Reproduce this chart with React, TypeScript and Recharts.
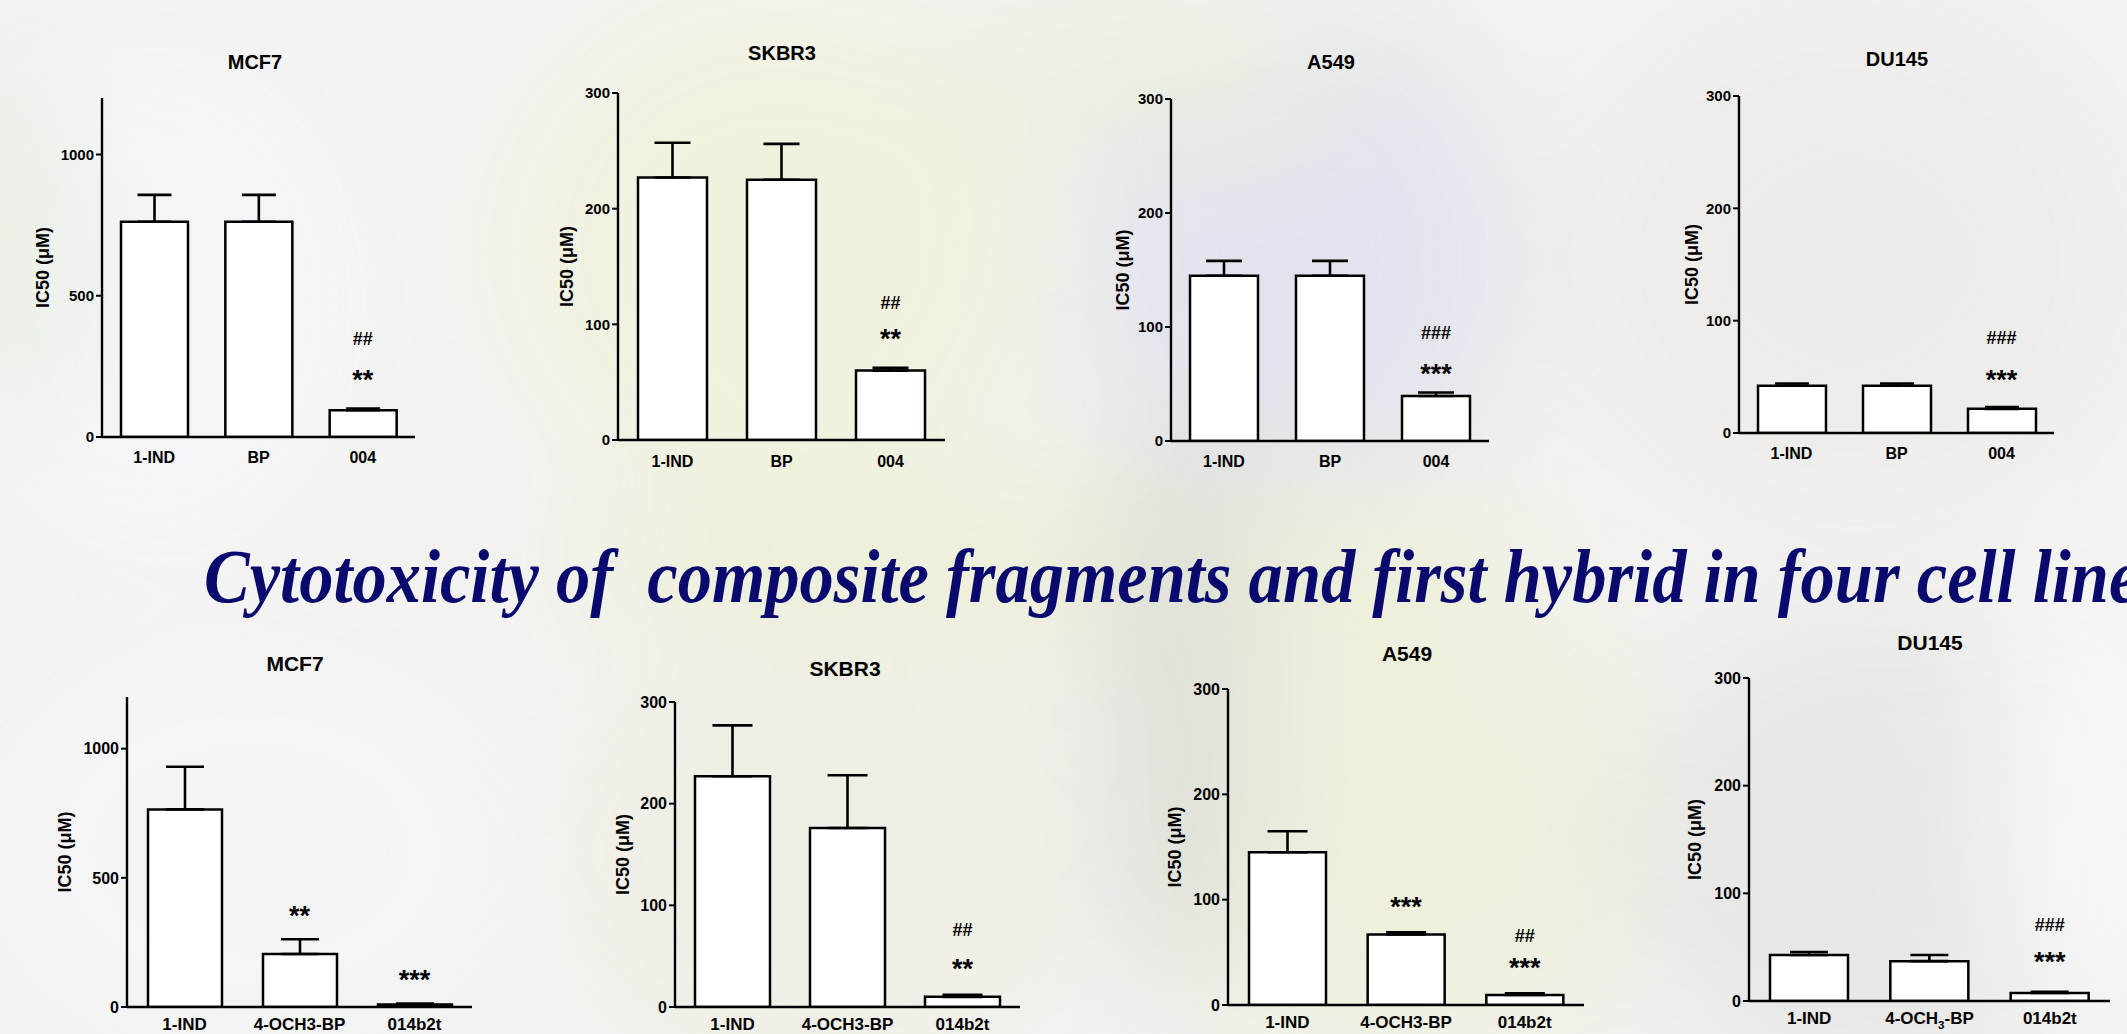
import React from 'react';
import { ComposedChart, Bar, Line, XAxis, YAxis, ErrorBar, LabelList } from 'recharts';

// ---------- data ----------
const topCategories = ['1-IND', 'BP', '004'];
const bottomCategories = ['1-IND', '4-OCH3-BP', '014b2t'];

const mcf7TopMean = [762, 762, 95];
const mcf7TopSem = [95, 95, 6];
const mcf7TopStars = ['', '', '**'];
const mcf7TopHashes = ['', '', '##'];

const skbr3TopMean = [227, 225, 60];
const skbr3TopSem = [30, 31, 2.5];
const skbr3TopStars = ['', '', '**'];
const skbr3TopHashes = ['', '', '##'];

const a549TopMean = [145, 145, 39.5];
const a549TopSem = [13, 13, 3];
const a549TopStars = ['', '', '***'];
const a549TopHashes = ['', '', '###'];

const du145TopMean = [42, 42, 21.5];
const du145TopSem = [2, 2, 1.5];
const du145TopStars = ['', '', '***'];
const du145TopHashes = ['', '', '###'];

const mcf7BotMean = [765, 205, 10];
const mcf7BotSem = [165, 57, 3];
const mcf7BotStars = ['', '**', '***'];
const mcf7BotHashes = ['', '', ''];

const skbr3BotMean = [227, 176, 10];
const skbr3BotSem = [50, 52, 2];
const skbr3BotStars = ['', '', '**'];
const skbr3BotHashes = ['', '', '##'];

const a549BotMean = [145, 67, 9.5];
const a549BotSem = [20, 2, 1.5];
const a549BotStars = ['', '***', '***'];
const a549BotHashes = ['', '', '##'];

const du145BotMean = [42.7, 37, 7.5];
const du145BotSem = [2.8, 5.7, 1];
const du145BotStars = ['', '', '***'];
const du145BotHashes = ['', '', '###'];

const mcf7Ticks = [0, 500, 1000];
const otherTicks = [0, 100, 200, 300];

const headingText = 'Cytotoxicity of  composite fragments and first hybrid in four cell lines';
const yLabelText = 'IC50 (\u03bcM)';

function buildRows(cats: string[], mean: number[], sem: number[], stars: string[], hashes: string[]) {
  return cats.map((name, i) => ({
    name,
    mean: mean[i],
    err: [0, sem[i]],
    top: mean[i] + sem[i],
    stars: stars[i],
    hashes: hashes[i],
  }));
}

// ---------- layout ----------
const YW = 80;
const MT = 12;
const MR = 10;
const XH = 30;
const SANS = "'Liberation Sans', Arial, Helvetica, sans-serif";

type PanelCfg = {
  title: string;
  data: any[];
  max: number;
  ticks: number[];
  axisX: number;
  topY: number;
  baseY: number;
  endX: number;
  barSize: number;
  cap: number;
  titleX: number;
  titleY: number;
  titleFont: number;
  yLabelX: number;
  yFont: number;
  xFont: number;
  xDy: number;
  starGap: number;
  hashGap: number;
  sub?: boolean;
};

const panels: PanelCfg[] = [
  {
    title: 'MCF7', data: buildRows(topCategories, mcf7TopMean, mcf7TopSem, mcf7TopStars, mcf7TopHashes),
    max: 1200, ticks: mcf7Ticks, axisX: 102, topY: 98, baseY: 437, endX: 415, barSize: 67, cap: 17,
    titleX: 255, titleY: 62, titleFont: 20, yLabelX: 43, yFont: 15, xFont: 16, xDy: 18, starGap: 35, hashGap: 70,
  },
  {
    title: 'SKBR3', data: buildRows(topCategories, skbr3TopMean, skbr3TopSem, skbr3TopStars, skbr3TopHashes),
    max: 300, ticks: otherTicks, axisX: 618, topY: 93, baseY: 440, endX: 945, barSize: 69, cap: 18,
    titleX: 782, titleY: 53, titleFont: 20, yLabelX: 567, yFont: 15, xFont: 16, xDy: 19, starGap: 35, hashGap: 65,
  },
  {
    title: 'A549', data: buildRows(topCategories, a549TopMean, a549TopSem, a549TopStars, a549TopHashes),
    max: 300, ticks: otherTicks, axisX: 1171, topY: 99, baseY: 441, endX: 1489, barSize: 68, cap: 18,
    titleX: 1331, titleY: 62, titleFont: 20, yLabelX: 1123, yFont: 15, xFont: 16, xDy: 18, starGap: 25, hashGap: 60,
  },
  {
    title: 'DU145', data: buildRows(topCategories, du145TopMean, du145TopSem, du145TopStars, du145TopHashes),
    max: 300, ticks: otherTicks, axisX: 1739, topY: 96, baseY: 433, endX: 2054, barSize: 68, cap: 17,
    titleX: 1897, titleY: 59, titleFont: 20, yLabelX: 1692, yFont: 15, xFont: 16, xDy: 18, starGap: 34, hashGap: 70,
  },
  {
    title: 'MCF7', data: buildRows(bottomCategories, mcf7BotMean, mcf7BotSem, mcf7BotStars, mcf7BotHashes),
    max: 1200, ticks: mcf7Ticks, axisX: 127, topY: 697, baseY: 1007, endX: 472, barSize: 74, cap: 19,
    titleX: 295, titleY: 663, titleFont: 21, yLabelX: 65, yFont: 16, xFont: 17, xDy: 15, starGap: 30, hashGap: 62,
  },
  {
    title: 'SKBR3', data: buildRows(bottomCategories, skbr3BotMean, skbr3BotSem, skbr3BotStars, skbr3BotHashes),
    max: 300, ticks: otherTicks, axisX: 675, topY: 702, baseY: 1007, endX: 1020, barSize: 75, cap: 20,
    titleX: 845, titleY: 668, titleFont: 21, yLabelX: 623, yFont: 16, xFont: 17, xDy: 15, starGap: 32, hashGap: 65,
  },
  {
    title: 'A549', data: buildRows(bottomCategories, a549BotMean, a549BotSem, a549BotStars, a549BotHashes),
    max: 300, ticks: otherTicks, axisX: 1228, topY: 689, baseY: 1005, endX: 1584, barSize: 77, cap: 20,
    titleX: 1407, titleY: 653, titleFont: 21, yLabelX: 1175, yFont: 16, xFont: 17, xDy: 15, starGap: 32, hashGap: 58,
  },
  {
    title: 'DU145', data: buildRows(bottomCategories, du145BotMean, du145BotSem, du145BotStars, du145BotHashes),
    max: 300, ticks: otherTicks, axisX: 1749, topY: 678, baseY: 1001, endX: 2110, barSize: 78, cap: 19,
    titleX: 1930, titleY: 642, titleFont: 21, yLabelX: 1695, yFont: 16, xFont: 17, xDy: 15, starGap: 36, hashGap: 67,
    sub: true,
  },
];

// ---------- renderers ----------
function XTick(props: any) {
  const { x, y, payload, fs, dyPx, sub } = props;
  const label = String(payload && payload.value != null ? payload.value : '');
  const common = {
    x, y: Number(y) + dyPx, textAnchor: 'middle' as const, fontSize: fs, fontWeight: 700, fill: '#000', fontFamily: SANS,
  };
  if (sub && label.indexOf('OCH3') >= 0) {
    const parts = label.split('OCH3');
    return (
      <text {...common}>
        {parts[0]}OCH
        <tspan fontSize={fs * 0.68} dy={fs * 0.28}>3</tspan>
        <tspan dy={-fs * 0.28}>{parts[1]}</tspan>
      </text>
    );
  }
  return <text {...common}>{label}</text>;
}

function renderMark(lp: any, gap: number, fs: number, centerEm: number) {
  const value = lp.value;
  if (!value) return null;
  const vb = lp.viewBox || {};
  const x = lp.x != null ? Number(lp.x) : Number(vb.x);
  const y = lp.y != null ? Number(lp.y) : Number(vb.y);
  const cy = y - gap;
  return (
    <text x={x} y={cy + fs * centerEm} textAnchor="middle" fontSize={fs} fontWeight={700} fill="#000" fontFamily={SANS}>
      {value}
    </text>
  );
}

function Panel({ p }: { p: PanelCfg }) {
  const W = YW + (p.endX - p.axisX) + MR;
  const H = MT + (p.baseY - p.topY) + XH;
  return (
    <div style={{ position: 'absolute', left: p.axisX - YW, top: p.topY - MT, width: W, height: H, fontFamily: SANS }}>
      <ComposedChart width={W} height={H} data={p.data} margin={{ top: MT, right: MR, bottom: 0, left: 0 }}>
        <XAxis
          dataKey="name"
          height={XH}
          tickLine={false}
          interval={0}
          axisLine={{ stroke: '#000', strokeWidth: 2.4 }}
          tick={(t: any) => <XTick {...t} fs={p.xFont} dyPx={p.xDy} sub={p.sub} />}
        />
        <YAxis
          type="number"
          width={YW}
          domain={[0, p.max]}
          ticks={p.ticks}
          interval={0}
          allowDataOverflow
          tickSize={6}
          tickMargin={2}
          axisLine={{ stroke: '#000', strokeWidth: 2.4 }}
          tickLine={{ stroke: '#000', strokeWidth: 2 }}
          tick={{ fill: '#000', fontSize: p.yFont, fontWeight: 700, fontFamily: SANS }}
          label={{
            value: yLabelText,
            angle: -90,
            position: 'insideLeft',
            offset: p.yLabelX - (p.axisX - YW),
            style: { textAnchor: 'middle', fontSize: 18, fontWeight: 700, fill: '#000', fontFamily: SANS },
          }}
        />
        <Bar dataKey="mean" barSize={p.barSize} fill="#fff" stroke="#000" strokeWidth={2.5} isAnimationActive={false}>
          <ErrorBar dataKey="err" width={p.cap} stroke="#000" strokeWidth={2.6} direction="y" />
        </Bar>
        <Line dataKey="top" stroke="none" dot={false} activeDot={false} isAnimationActive={false} legendType="none">
          <LabelList dataKey="stars" content={(lp: any) => renderMark(lp, p.starGap, 27, 0.57)} />
          <LabelList dataKey="hashes" content={(lp: any) => renderMark(lp, p.hashGap, 18, 0.36)} />
        </Line>
      </ComposedChart>
    </div>
  );
}

function Background() {
  return (
    <svg width={2127} height={1034} style={{ position: 'absolute', left: 0, top: 0 }}>
      <defs>
        <filter id="blur" x="-50%" y="-50%" width="200%" height="200%">
          <feGaussianBlur stdDeviation="60" />
        </filter>
      </defs>
      <rect x={0} y={0} width={2127} height={1034} fill="#f2f2f0" />
      <g filter="url(#blur)" opacity={0.9}>
        <ellipse cx={150} cy={300} rx={220} ry={260} fill="#f6f6fa" />
        <ellipse cx={20} cy={250} rx={60} ry={200} fill="#e6efe0" />
        <ellipse cx={780} cy={250} rx={260} ry={240} fill="#f1f2dc" />
        <ellipse cx={1300} cy={260} rx={220} ry={250} fill="#e2e2ee" />
        <ellipse cx={1150} cy={80} rx={200} ry={60} fill="#e8efdc" />
        <ellipse cx={1850} cy={260} rx={280} ry={260} fill="#eeecea" />
        <ellipse cx={1050} cy={560} rx={500} ry={90} fill="#edf0d8" />
        <ellipse cx={250} cy={850} rx={280} ry={220} fill="#f5f5f7" />
        <ellipse cx={820} cy={850} rx={250} ry={220} fill="#efefe4" />
        <ellipse cx={1400} cy={820} rx={260} ry={240} fill="#eef0dc" />
        <ellipse cx={1180} cy={700} rx={70} ry={300} fill="#d9dcd4" />
        <ellipse cx={1880} cy={850} rx={260} ry={240} fill="#e6e6e6" />
        <ellipse cx={2080} cy={800} rx={90} ry={240} fill="#f7f7f7" />
      </g>
    </svg>
  );
}

function Overlay() {
  return (
    <svg width={2127} height={1034} style={{ position: 'absolute', left: 0, top: 0, pointerEvents: 'none' }}>
      {panels.map((p, i) => (
        <text
          key={i}
          x={p.titleX}
          y={p.titleY + p.titleFont * 0.36}
          textAnchor="middle"
          fontSize={p.titleFont}
          fontWeight={700}
          fill="#000"
          fontFamily={SANS}
        >
          {p.title}
        </text>
      ))}
      <text
        x={204}
        y={602}
        fontSize={76}
        fontStyle="italic"
        fontWeight={700}
        fill="#0a0a6e"
        fontFamily="'Liberation Serif', 'Times New Roman', serif"
        textLength={1962}
        lengthAdjust="spacingAndGlyphs"
        style={{ whiteSpace: 'pre' }}
      >
        {headingText}
      </text>
    </svg>
  );
}

export default function App() {
  return (
    <div style={{ position: 'absolute', left: 0, top: 0, width: 2127, height: 1034, overflow: 'hidden', background: '#f2f2f0' }}>
      <Background />
      {panels.map((p, i) => (
        <Panel key={i} p={p} />
      ))}
      <Overlay />
    </div>
  );
}
